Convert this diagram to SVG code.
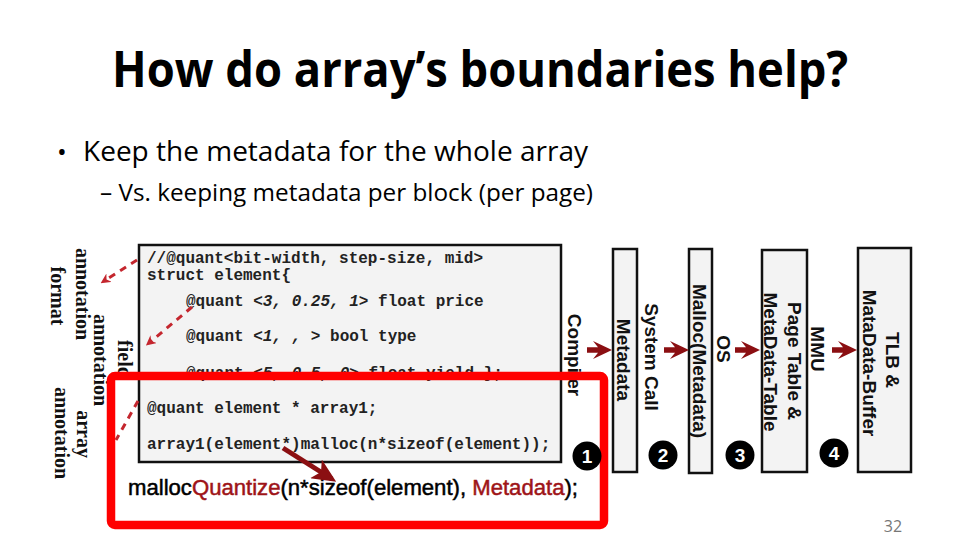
<svg xmlns="http://www.w3.org/2000/svg" width="960" height="540" viewBox="0 0 960 540">
<style>
  .title{font-family:"Open Sans","Liberation Sans",sans-serif;font-weight:bold;font-size:50px;fill:#000}
  .body{font-family:"Open Sans","Liberation Sans",sans-serif;fill:#000}
  .code{font-family:"Liberation Mono","Courier New",monospace;font-weight:bold;font-size:16px;fill:#222}
  .it{font-style:italic}
  .lbl{font-family:"Liberation Serif","Times New Roman",serif;font-weight:bold;font-size:20px;fill:#111}
  .vt{font-family:"Liberation Sans",Arial,sans-serif;font-weight:bold;font-size:19px;fill:#111;text-anchor:middle}
  .box{fill:#f3f3f3;stroke:#111;stroke-width:2.5}
  .num{font-family:"Liberation Sans",Arial,sans-serif;font-weight:bold;font-size:19px;fill:#fff;text-anchor:middle}
  .dash{fill:none;stroke:#c4262e;stroke-width:3;stroke-dasharray:7,6}
  .arr{fill:#8b0f12}
  .mq{font-family:"Liberation Sans",Arial,sans-serif;font-size:22px;fill:#000;stroke:#000;stroke-width:0.5}
  .dr{fill:#9e1418;stroke:#9e1418}
</style>
<defs>
  <path id="fat" d="M0,-2.8 L11,-2.8 L6,-9 L25,0 L6,9 L11,2.8 L0,2.8 Z"/>
  <marker id="dhead" markerWidth="10" markerHeight="10" refX="6" refY="5" orient="auto" markerUnits="userSpaceOnUse" viewBox="0 0 10 10">
    <path d="M0,0 L10,5 L0,10 L3,5 Z" fill="#c4262e"/>
  </marker>
  <marker id="bhead" markerWidth="24" markerHeight="22" refX="19" refY="11" orient="auto" markerUnits="userSpaceOnUse" viewBox="0 0 24 22">
    <path d="M0,0 L24,11 L0,22 L6,11 Z" fill="#8b0f12"/>
  </marker>
</defs>
<rect width="960" height="540" fill="#fff"/>

<g id="title">
  <text class="title" x="112" y="87" textLength="736" lengthAdjust="spacingAndGlyphs">How do array’s boundaries help?</text>
</g>
<g id="bullets">
  <text class="body" x="57" y="161" font-size="26">•</text>
  <text class="body" x="83" y="161" font-size="28" textLength="505" lengthAdjust="spacingAndGlyphs">Keep the metadata for the whole array</text>
  <text class="body" x="100" y="201" font-size="24" textLength="493" lengthAdjust="spacingAndGlyphs">– Vs. keeping metadata per block (per page)</text>
</g>

<g id="labels">
  <g transform="translate(83,294) rotate(90)"><text class="lbl" text-anchor="middle" y="7">annotation</text></g>
  <g transform="translate(58,296) rotate(90)"><text class="lbl" text-anchor="middle" y="7">format</text></g>
  <g transform="translate(125,359) rotate(90)"><text class="lbl" text-anchor="middle" y="7">field</text></g>
  <g transform="translate(101,360) rotate(90)"><text class="lbl" text-anchor="middle" y="7">annotation</text></g>
  <g transform="translate(84,434) rotate(90)"><text class="lbl" text-anchor="middle" y="7">array</text></g>
  <g transform="translate(62,433) rotate(90)"><text class="lbl" text-anchor="middle" y="7">annotation</text></g>
</g>

<g id="code-box">
  <rect class="box" x="139" y="245" width="422" height="217"/>
  <text class="code" x="147" y="263">//@quant&lt;bit-width, step-size, mid&gt;</text>
  <text class="code" x="147" y="280">struct element{</text>
  <text class="code" x="186" y="306">@quant <tspan class="it">&lt;3, 0.25, 1&gt;</tspan> float price</text>
  <text class="code" x="186" y="341">@quant <tspan class="it">&lt;1, , &gt;</tspan> bool type</text>
  <text class="code" x="186" y="378">@quant <tspan class="it">&lt;5, 0.5, 0&gt;</tspan> float yield };</text>
  <text class="code" x="147" y="413">@quant element * array1;</text>
  <text class="code" x="147" y="449">array1(element*)malloc(n*sizeof(element));</text>
</g>

<g id="malloc-quantize">
  <text class="mq" x="128" y="495" textLength="450" lengthAdjust="spacingAndGlyphs">malloc<tspan class="dr">Quantize</tspan>(n*sizeof(element), <tspan class="dr">Metadata</tspan>);</text>
</g>

<g id="compiler-label">
  <g transform="translate(575,355) rotate(90)"><text class="vt" y="7">Compiler</text></g>
</g>

<g id="node-metadata">
  <rect class="box" x="613" y="249" width="24" height="223" stroke-width="2"/>
  <g transform="translate(624,360) rotate(90)"><text class="vt" y="7">Metadata</text></g>
</g>
<g id="syscall-label">
  <g transform="translate(652,357) rotate(90)"><text class="vt" y="7">System Call</text></g>
</g>
<g id="node-malloc">
  <rect class="box" x="689" y="249" width="23" height="224" stroke-width="2"/>
  <g transform="translate(700,361) rotate(90)"><text class="vt" y="7">Malloc(Metadata)</text></g>
</g>
<g id="os-label">
  <g transform="translate(724,349) rotate(90)"><text class="vt" y="7">OS</text></g>
</g>
<g id="node-pagetable">
  <rect class="box" x="762" y="250" width="45" height="222" stroke-width="2"/>
  <g transform="translate(795,361) rotate(90)"><text class="vt" y="7">Page Table &amp;</text></g>
  <g transform="translate(771,362) rotate(90)"><text class="vt" y="7">MetaData-Table</text></g>
</g>
<g id="mmu-label">
  <g transform="translate(818,349) rotate(90)"><text class="vt" y="7">MMU</text></g>
</g>
<g id="node-tlb">
  <rect class="box" x="858" y="248" width="53" height="224" stroke="#555" stroke-width="2"/>
  <g transform="translate(893,360) rotate(90)"><text class="vt" y="7">TLB &amp;</text></g>
  <g transform="translate(870,363) rotate(90)"><text class="vt" y="7">MataData-Buffer</text></g>
</g>

<g id="connectors">
  <path class="dash" d="M137,260 L104,281" marker-end="url(#dhead)"/>
  <path class="dash" d="M192,307 L149,343" marker-end="url(#dhead)"/>
  <path class="dash" d="M138,401 L116,440"/>
  <use href="#fat" class="arr" x="587" y="350"/>
  <use href="#fat" class="arr" x="664" y="350"/>
  <use href="#fat" class="arr" x="735" y="350"/>
  <use href="#fat" class="arr" x="832" y="350"/>
  <path d="M283,448 L332,479" stroke="#8b0f12" stroke-width="5" fill="none" marker-end="url(#bhead)"/>
</g>

<g id="highlight">
  <rect x="111" y="376" width="493" height="149" rx="4" fill="none" stroke="#f00" stroke-width="8.5"/>
</g>

<g id="steps">
  <circle cx="587" cy="456" r="14.5" fill="#000"/><text class="num" x="587" y="463">1</text>
  <circle cx="663" cy="455" r="14.5" fill="#000"/><text class="num" x="663" y="462">2</text>
  <circle cx="740" cy="455" r="14.5" fill="#000"/><text class="num" x="740" y="462">3</text>
  <circle cx="834" cy="453" r="14.5" fill="#000"/><text class="num" x="834" y="460">4</text>
</g>

<g id="page-number">
  <text x="893" y="532" font-family="Open Sans,Liberation Sans,sans-serif" font-size="16" fill="#777" text-anchor="middle">32</text>
</g>
</svg>
